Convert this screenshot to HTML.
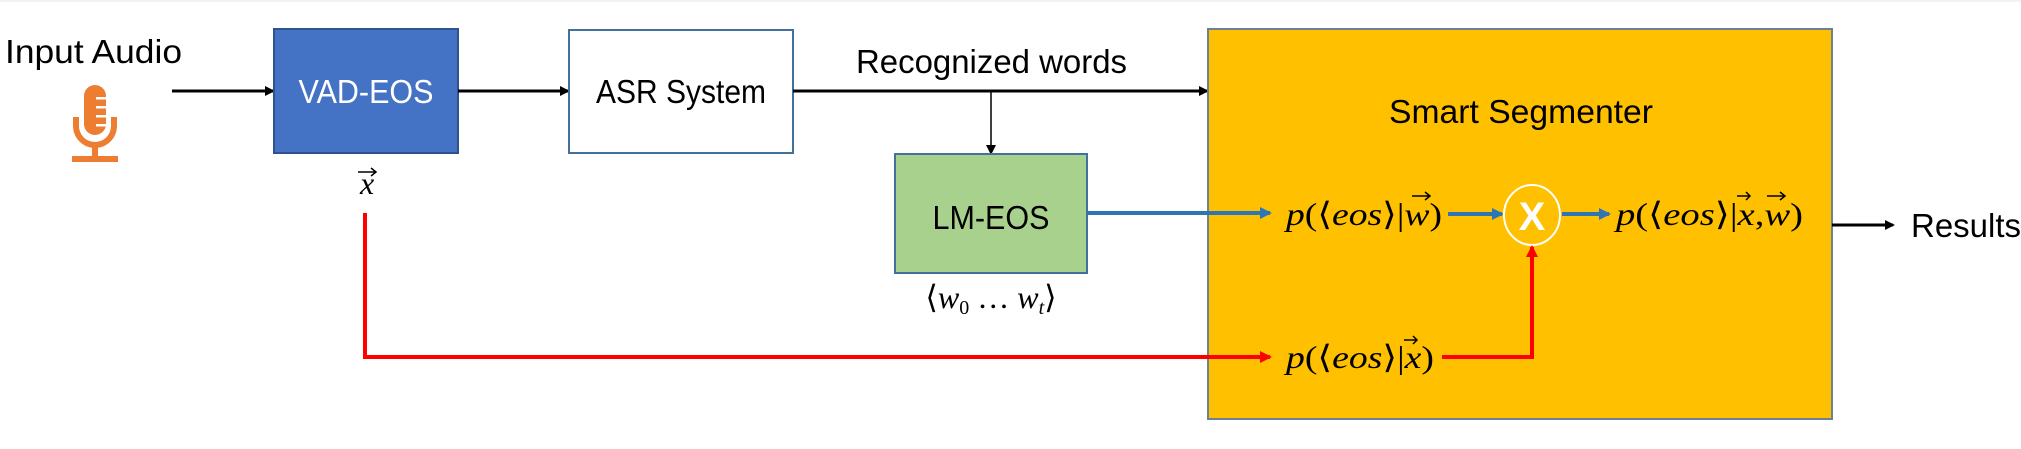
<!DOCTYPE html>
<html><head><meta charset="utf-8"><style>
html,body{margin:0;padding:0;background:#fff;width:2021px;height:449px;overflow:hidden}
svg{display:block}
.s{font-family:"Liberation Sans",sans-serif;font-size:33px;fill:#000}
.m{font-family:"Liberation Serif","DejaVu Serif",serif;font-size:32px;fill:#000}
.i{font-style:italic}
</style></head><body>
<svg width="2021" height="449" viewBox="0 0 2021 449" xmlns="http://www.w3.org/2000/svg">
<defs>
<marker id="ak" markerWidth="10" markerHeight="10" refX="8" refY="5" orient="auto" markerUnits="userSpaceOnUse"><path d="M0,0 L10,5 L0,10 z" fill="#000"/></marker>
<marker id="ab" markerWidth="12" markerHeight="12" refX="10" refY="6" orient="auto" markerUnits="userSpaceOnUse"><path d="M0,0 L12,6 L0,12 z" fill="#2E75B6"/></marker>
<marker id="ar" markerWidth="12" markerHeight="12" refX="10" refY="6" orient="auto" markerUnits="userSpaceOnUse"><path d="M0,0 L12,6 L0,12 z" fill="#FF0000"/></marker>
</defs>
<rect x="0" y="0" width="2021" height="2" fill="#f2f2f2"/>
<!-- Input Audio -->
<text class="s" x="5" y="63" textLength="177" lengthAdjust="spacingAndGlyphs">Input Audio</text>
<!-- mic -->
<g fill="#ED7D31">
<rect x="84" y="85" width="22" height="50" rx="11"/>
<path d="M73,117 L79,117 L79,126 A16,16 0 0 0 111,126 L111,117 L117,117 L117,126 A22,22 0 0 1 73,126 Z"/>
<rect x="92" y="147" width="6" height="12"/>
<rect x="72" y="156" width="46" height="6"/>
</g>
<g fill="#fff"><rect x="96" y="97" width="10" height="2.5"/><rect x="96" y="106" width="10" height="2.5"/><rect x="96" y="115" width="10" height="2.5"/><rect x="96" y="124" width="10" height="2.5"/></g>
<!-- arrows top row -->
<line x1="172" y1="91" x2="273" y2="91" stroke="#000" stroke-width="3" marker-end="url(#ak)"/>
<rect x="274" y="29" width="184" height="124" fill="#4472C4" stroke="#2F528F" stroke-width="2"/>
<text class="s" x="366" y="103" text-anchor="middle" fill="#fff" style="fill:#fff" textLength="135" lengthAdjust="spacingAndGlyphs">VAD-EOS</text>
<line x1="458" y1="91" x2="568" y2="91" stroke="#000" stroke-width="3" marker-end="url(#ak)"/>
<rect x="569" y="30" width="224" height="123" fill="#fff" stroke="#41719C" stroke-width="2"/>
<text class="s" x="681" y="103" text-anchor="middle" textLength="170" lengthAdjust="spacingAndGlyphs">ASR System</text>
<text class="s" x="856" y="73" textLength="271" lengthAdjust="spacingAndGlyphs">Recognized words</text>
<line x1="793" y1="91" x2="1207" y2="91" stroke="#000" stroke-width="3" marker-end="url(#ak)"/>
<line x1="991" y1="91" x2="991" y2="153" stroke="#000" stroke-width="1.5" marker-end="url(#ak)"/>
<!-- x vec label -->
<text class="m i" x="360" y="194">x</text>
<path d="M358,172 L376,172 M371,168 L376,172 L371,176" stroke="#000" stroke-width="1.5" fill="none"/>
<!-- LM box -->
<rect x="895" y="154" width="192" height="119" fill="#A9D18E" stroke="#41719C" stroke-width="2"/>
<text class="s" x="991" y="229" text-anchor="middle" textLength="117" lengthAdjust="spacingAndGlyphs">LM-EOS</text>
<text class="m" x="991" y="308" text-anchor="middle">⟨<tspan class="i">w</tspan><tspan font-size="20" dy="6">0</tspan><tspan dy="-6"> … </tspan><tspan class="i">w</tspan><tspan class="i" font-size="20" dy="6">t</tspan><tspan dy="-6">⟩</tspan></text>
<!-- Smart segmenter -->
<rect x="1208" y="29" width="624" height="390" fill="#FFC000" stroke="#6F7F95" stroke-width="2"/>
<text class="s" x="1521" y="123" text-anchor="middle" textLength="264" lengthAdjust="spacingAndGlyphs">Smart Segmenter</text>
<!-- blue -->
<line x1="1087" y1="213" x2="1270" y2="213" stroke="#2E75B6" stroke-width="4" marker-end="url(#ab)"/>
<text class="m" x="1286" y="225" textLength="156" lengthAdjust="spacingAndGlyphs"><tspan class="i">p</tspan>(⟨<tspan class="i">eos</tspan>⟩|<tspan class="i">w</tspan>)</text>
<path d="M1412,196 L1430,196 M1425,192 L1430,196 L1425,200" stroke="#000" stroke-width="1.5" fill="none"/>
<line x1="1448" y1="214" x2="1502" y2="214" stroke="#2E75B6" stroke-width="4" marker-end="url(#ab)"/>
<ellipse cx="1532" cy="215" rx="28" ry="30" fill="#FFC000" stroke="#fff" stroke-width="2"/>
<text x="1532" y="230" text-anchor="middle" font-family="Liberation Sans,sans-serif" font-weight="bold" font-size="40" fill="#fff">X</text>
<line x1="1562" y1="214" x2="1609" y2="214" stroke="#2E75B6" stroke-width="4" marker-end="url(#ab)"/>
<text class="m" x="1616" y="225" textLength="187" lengthAdjust="spacingAndGlyphs"><tspan class="i">p</tspan>(⟨<tspan class="i">eos</tspan>⟩|<tspan class="i">x</tspan>,<tspan class="i">w</tspan>)</text>
<path d="M1737,196 L1750,196 M1746,192 L1750,196 L1746,200" stroke="#000" stroke-width="1.5" fill="none"/>
<path d="M1767,196 L1785,196 M1780,192 L1785,196 L1780,200" stroke="#000" stroke-width="1.5" fill="none"/>
<!-- results -->
<line x1="1832" y1="225" x2="1893" y2="225" stroke="#000" stroke-width="3" marker-end="url(#ak)"/>
<text class="s" x="1911" y="237" textLength="110" lengthAdjust="spacingAndGlyphs">Results</text>
<!-- red -->
<polyline points="365,213 365,357 1270,357" fill="none" stroke="#FF0000" stroke-width="4" marker-end="url(#ar)"/>
<text class="m" x="1286" y="368" textLength="148" lengthAdjust="spacingAndGlyphs"><tspan class="i">p</tspan>(⟨<tspan class="i">eos</tspan>⟩|<tspan class="i">x</tspan>)</text>
<path d="M1404,340 L1417,340 M1413,336 L1417,340 L1413,344" stroke="#000" stroke-width="1.5" fill="none"/>
<polyline points="1442,357 1532,357 1532,247" fill="none" stroke="#FF0000" stroke-width="4" marker-end="url(#ar)"/>
</svg>
</body></html>
